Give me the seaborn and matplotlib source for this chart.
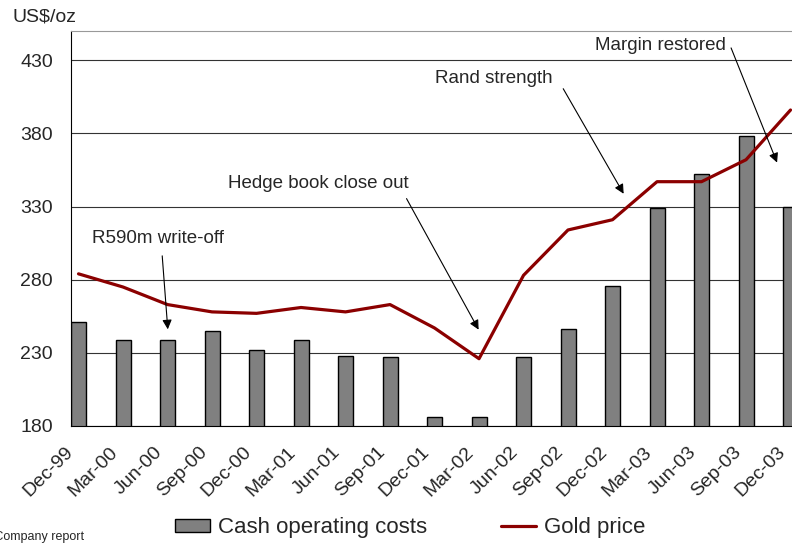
import matplotlib
matplotlib.use("Agg")
import matplotlib.pyplot as plt
import numpy as np
import seaborn as sns
from matplotlib.lines import Line2D
from matplotlib.patches import Patch

quarters = ["Dec-99", "Mar-00", "Jun-00", "Sep-00", "Dec-00", "Mar-01", "Jun-01",
            "Sep-01", "Dec-01", "Mar-02", "Jun-02", "Sep-02", "Dec-02", "Mar-03",
            "Jun-03", "Sep-03", "Dec-03"]
cash_costs = [251, 239, 239, 245, 232, 239, 228, 227, 186, 186, 227, 246, 276,
              329, 352, 378, 330]
gold_price = [284, 275, 263, 258, 257, 261, 258, 263, 247, 226, 283, 314, 321,
              347, 347, 362, 396]
y_ticks = [180, 230, 280, 330, 380, 430]

sns.set_style("white")
plt.rcParams["font.family"] = ["Liberation Sans", "DejaVu Sans"]

fig = plt.figure(figsize=(7.92, 5.44), dpi=100)
ax = fig.add_axes([71 / 792, 1 - 426 / 544, 756.5 / 792, 395 / 544])

pos = np.arange(len(quarters))
bar_pos = pos + 0.169

sns.barplot(x=bar_pos, y=cash_costs, native_scale=True, orient="x", width=0.337,
            color="#808080", saturation=1, edgecolor="black", linewidth=1, ax=ax)
sns.lineplot(x=bar_pos, y=gold_price, color="#8B0000", linewidth=2.3, ax=ax)

ax.set_xlim(0, len(quarters))
ax.set_ylim(180, 450)
ax.set_xticks(pos)
ax.set_xticklabels(quarters, rotation=45, ha="right", va="center",
                   rotation_mode="anchor", fontsize=14)
ax.set_yticks(y_ticks)
ax.set_yticklabels([str(t) for t in y_ticks], fontsize=14)
ax.set_xlabel("")
ax.set_ylabel("")

ax.set_axisbelow(True)
ax.yaxis.grid(True, color="#333333", linewidth=0.8)
ax.xaxis.grid(False)
ax.tick_params(axis="y", direction="out", length=6, width=0.8, pad=7, color="black")
ax.tick_params(axis="x", direction="out", length=4, width=0.8, pad=13, color="black")
ax.spines["left"].set_color("black")
ax.spines["bottom"].set_color("black")
ax.spines["top"].set_color("#999999")
ax.spines["right"].set_visible(False)
for s in ["left", "bottom", "top"]:
    ax.spines[s].set_linewidth(0.8)

# annotations
arrow = dict(arrowstyle="-|>", color="black", lw=0.8, mutation_scale=14)
notes = [
    ("R590m write-off", (0.47, 308.4), (2.045, 298.2), (2.18, 244.2)),
    ("Hedge book close out", (3.53, 346.0), (7.51, 337.1), (9.19, 244.2)),
    ("Rand strength", (8.18, 417.7), (11.03, 412.2), (12.45, 337.1)),
    ("Margin restored", (11.78, 440.2), (14.81, 440.2), (15.89, 358.3)),
]
for label, txt_xy, start, tip in notes:
    ax.text(txt_xy[0], txt_xy[1], label, fontsize=13.5, ha="left", va="center")
    ax.annotate("", xy=tip, xytext=start, arrowprops=arrow, annotation_clip=False)

fig.text(12 / 792, 1 - 17 / 544, "US$/oz", fontsize=14, ha="left", va="center")
fig.text(84 / 792, 1 - 537 / 544, "Source: Company report", fontsize=9,
         ha="right", va="center")

handles = [Patch(facecolor="#808080", edgecolor="black", linewidth=1),
           Line2D([0], [0], color="#8B0000", linewidth=2.3)]
fig.legend(handles, ["Cash operating costs", "Gold price"], loc="center",
           bbox_to_anchor=(410 / 792, 1 - 528 / 544), ncol=2, frameon=False,
           fontsize=16, handlelength=1.6, handleheight=0.5, handletextpad=0.35,
           columnspacing=3.3)

fig.savefig("out.png", dpi=100)
